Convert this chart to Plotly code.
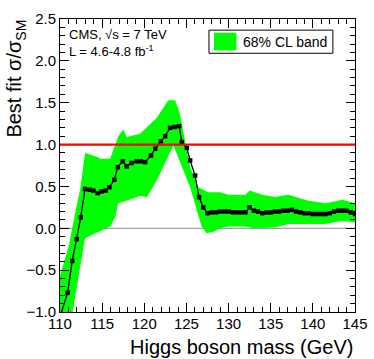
import plotly.graph_objects as go

# best fit signal strength vs Higgs mass
mass = [110.0, 110.9, 111.45, 111.98, 112.46, 112.97, 113.5, 113.96, 114.47, 114.95,
        115.42, 115.86, 116.45, 116.85, 117.44, 117.92, 118.5, 119.1, 119.6, 120.1,
        120.8, 121.3, 121.96, 122.47, 123.06, 123.6, 124.13, 124.45, 125.05, 125.44,
        126.03, 126.5, 127.0, 127.5, 128.0, 128.5, 129.0, 129.5, 130.0, 130.5,
        131.0, 131.5, 132.0, 132.5, 133.0, 133.5, 134.0, 134.5, 135.0, 135.5,
        136.0, 136.5, 137.0, 137.5, 138.0, 138.5, 139.0, 139.5, 140.0, 140.5,
        141.0, 141.5, 142.0, 142.5, 143.0, 143.5, 144.0, 144.5, 145.0]
best_fit = [-1.06, -0.77, -0.39, -0.13, 0.13, 0.47, 0.46, 0.45, 0.42, 0.44,
            0.45, 0.49, 0.58, 0.73, 0.80, 0.74, 0.78, 0.80, 0.80, 0.79,
            0.87, 0.95, 1.04, 1.10, 1.20, 1.21, 1.22, 1.03, 0.96, 0.81,
            0.63, 0.37, 0.25, 0.18, 0.19, 0.19, 0.20, 0.20, 0.20, 0.19,
            0.19, 0.19, 0.19, 0.25, 0.21, 0.20, 0.18, 0.19, 0.19, 0.20,
            0.20, 0.21, 0.21, 0.22, 0.20, 0.19, 0.18, 0.18, 0.17, 0.17,
            0.17, 0.17, 0.18, 0.20, 0.21, 0.21, 0.21, 0.19, 0.17]

# 68% CL band edges
hi_mass = [110.0, 111.0, 111.8, 112.4, 112.97, 114.55, 114.75, 115.94, 116.92, 117.52,
           117.92, 119.5, 121.48, 122.86, 123.66, 124.25, 125.44, 126.42, 127.6, 129.0,
           130.0, 132.0, 132.5, 134.0, 135.5, 137.1, 139.5, 141.5, 143.5, 145.0]
hi_val = [-0.56, -0.23, 0.18, 0.47, 0.90, 0.85, 0.83, 0.83, 1.10, 1.18,
          1.09, 1.13, 1.32, 1.53, 1.53, 1.36, 0.73, 0.49, 0.43, 0.43,
          0.40, 0.40, 0.45, 0.40, 0.375, 0.40, 0.33, 0.30, 0.34, 0.30]
lo_mass = [110.0, 111.5, 112.97, 113.96, 115.94, 116.53, 116.92, 117.92, 119.5, 120.3,
           121.48, 123.45, 123.85, 125.44, 126.8, 127.4, 128.2, 129.0, 130.0, 132.0,
           133.0, 135.5, 137.1, 139.5, 141.5, 143.5, 145.0]
lo_val = [-1.9, -1.0, -0.12, -0.07, 0.02, 0.13, 0.30, 0.33, 0.39, 0.37,
          0.57, 0.99, 0.89, 0.49, 0.02, -0.06, -0.04, 0.0, 0.02, 0.02,
          0.0, 0.01, 0.05, 0.05, 0.05, 0.09, 0.07]

band_color = "#00ff00"
font = "Liberation Sans, Arial, sans-serif"

fig = go.Figure()

fig.add_trace(go.Scatter(
    x=hi_mass + lo_mass[::-1], y=hi_val + lo_val[::-1],
    fill="toself", fillcolor=band_color, mode="none",
    name="68% CL band", showlegend=False, hoverinfo="skip"))

fig.add_trace(go.Scatter(
    x=mass, y=best_fit, mode="lines+markers",
    line=dict(color="black", width=1.3),
    marker=dict(symbol="square", size=4.5, color="black"),
    showlegend=False))

# dummy trace so the top/right tick axes get drawn
fig.add_trace(go.Scatter(x=[None], y=[None], xaxis="x2", yaxis="y2",
                         showlegend=False, hoverinfo="skip"))

axis = dict(showline=True, linecolor="black", linewidth=1,
            ticks="inside", ticklen=9, tickcolor="black", showgrid=False,
            zeroline=False, tickfont=dict(family=font, size=15, color="black"))
xminor = dict(ticks="inside", ticklen=5, dtick=1, tickcolor="black", showgrid=False)
yminor = dict(ticks="inside", ticklen=5, dtick=0.1, tickcolor="black", showgrid=False)

fig.update_layout(
    width=374, height=359,
    margin=dict(l=60, r=19, t=19, b=47, autoexpand=False),
    plot_bgcolor="white", paper_bgcolor="white",
    font=dict(family=font, color="black"),
    showlegend=False,
    xaxis=dict(axis, range=[110, 145], dtick=5, tick0=110, minor=xminor,
               ticklabelstandoff=-2),
    yaxis=dict(axis, range=[-1.0, 2.5], dtick=0.5, tick0=0, tickformat=".1f", minor=yminor),
    xaxis2=dict(axis, range=[110, 145], dtick=5, tick0=110, minor=xminor,
                overlaying="x", side="top", showticklabels=False),
    yaxis2=dict(axis, range=[-1.0, 2.5], dtick=0.5, tick0=0, minor=yminor,
                overlaying="y", side="right", showticklabels=False),
    annotations=[
        dict(text="68% CL band", xref="paper", yref="paper", x=0.612, y=0.922,
             xanchor="left", yanchor="middle", showarrow=False, font=dict(size=14)),
        dict(text="CMS, √s = 7 TeV", xref="paper", yref="paper", x=0.025, y=0.98,
             xanchor="left", yanchor="top", showarrow=False, font=dict(size=13)),
        dict(text="L = 4.6-4.8 fb<sup>-1</sup>", xref="paper", yref="paper", x=0.025, y=0.925,
             xanchor="left", yanchor="top", showarrow=False, font=dict(size=13)),
        dict(text="Higgs boson mass (GeV)", xref="paper", yref="paper", x=1.0, y=-0.075,
             xanchor="right", yanchor="top", showarrow=False, font=dict(size=20)),
        dict(text="Best fit σ/σ<sub>SM</sub>", xref="paper", yref="paper", x=-0.2, y=1.003,
             xanchor="left", yanchor="top", textangle=-90, showarrow=False,
             font=dict(size=20)),
    ],
)

# zero line (under the band) and SM line (over it)
fig.add_hline(y=0, line=dict(color="#888888", width=1), layer="below")
fig.add_hline(y=1, line=dict(color="#ff0000", width=2.2))

# hand-drawn legend box
fig.add_shape(type="rect", xref="paper", yref="paper", x0=0.505, x1=0.925, y0=0.883, y1=0.962,
              line=dict(color="black", width=1), fillcolor="white")
fig.add_shape(type="rect", xref="paper", yref="paper", x0=0.522, x1=0.598, y0=0.893, y1=0.953,
              line=dict(width=0), fillcolor=band_color)

fig.write_html("out.html", config={"displayModeBar": False},
               post_script="document.body.style.margin='0';")
